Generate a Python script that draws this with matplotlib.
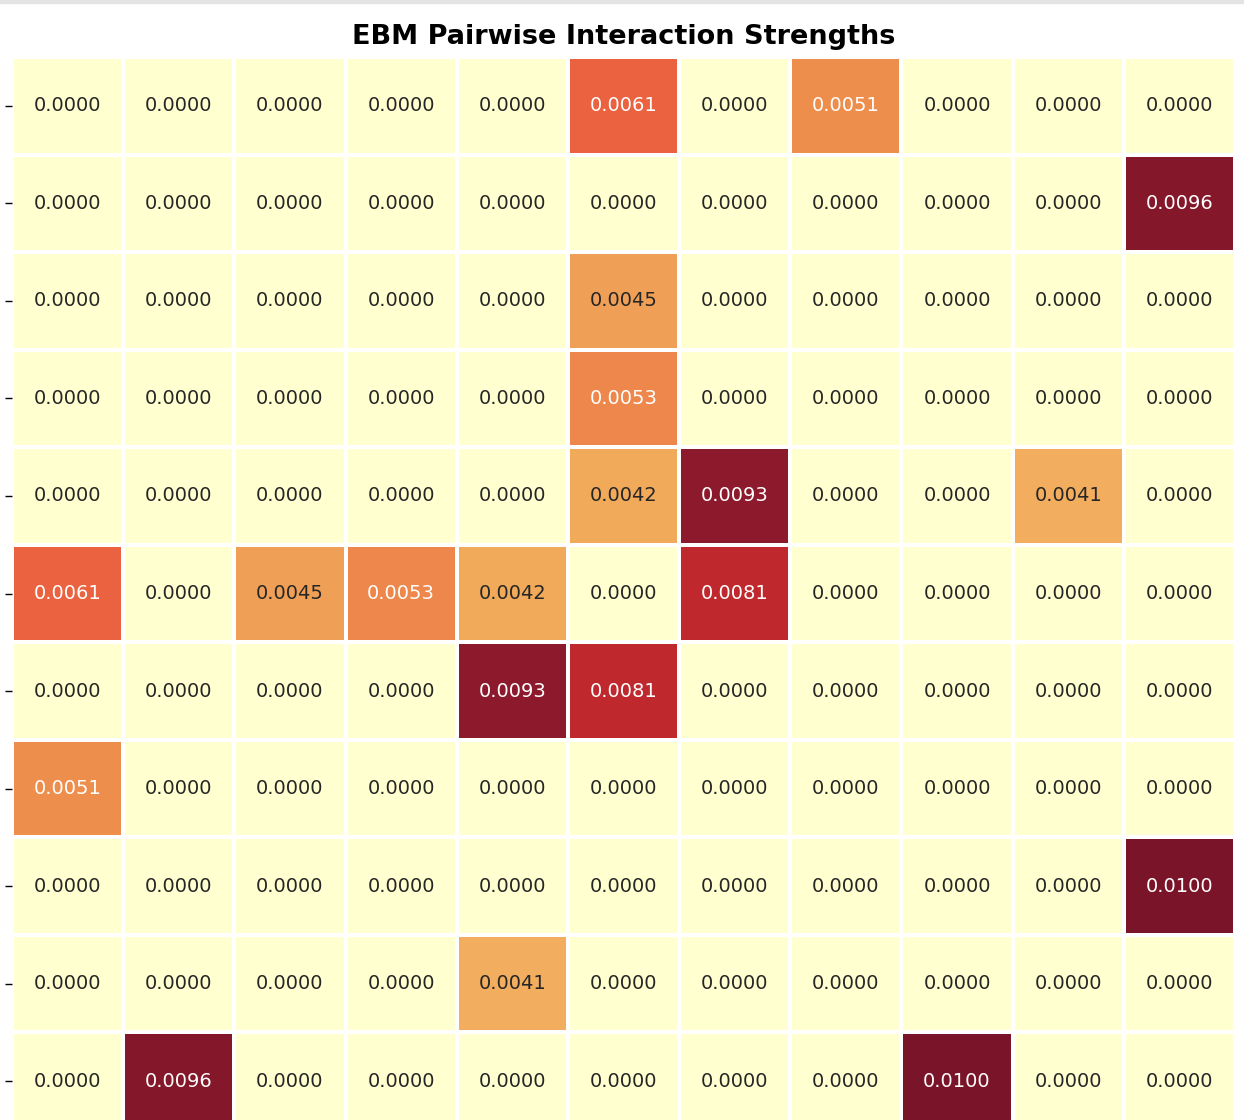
import matplotlib
matplotlib.use("Agg")
import matplotlib.pyplot as plt
from matplotlib.colors import LinearSegmentedColormap
import numpy as np
import seaborn as sns

n_features = 11
# (row, col, strength) for the non-zero pairs; matrix is symmetric
pairs = [(0, 5, 0.0061), (0, 7, 0.0051), (1, 10, 0.0096), (2, 5, 0.0045),
         (3, 5, 0.0053), (4, 5, 0.0042), (4, 6, 0.0093), (4, 9, 0.0041),
         (5, 6, 0.0081), (8, 10, 0.0100)]

strength = np.zeros((n_features, n_features))
for i, j, v in pairs:
    strength[i, j] = v
    strength[j, i] = v

# muted YlOrRd, as it shows in the screenshot
cmap = LinearSegmentedColormap.from_list("ylorrd_muted", [
    (0.00, "#ffffd0"), (0.20, "#fbe9a0"), (0.42, "#f1aa5a"), (0.52, "#ee8b4c"),
    (0.61, "#ea6340"), (0.81, "#c0292d"), (0.93, "#8e1a2c"), (1.00, "#7a1428")])

fig = plt.figure(figsize=(12.44, 11.2), dpi=100)
# thin grey strip along the top edge
fig.patches.append(plt.Rectangle((0, 1 - 3 / 1120), 1, 3 / 1120,
                                 transform=fig.transFigure, color="#e4e4e4", zorder=0))

ax = fig.add_axes([12 / 1244, 1 - 1130 / 1120, 1223 / 1244, 1073 / 1120])
sns.heatmap(strength, ax=ax, cmap=cmap, vmin=0, vmax=0.01, annot=True, fmt=".4f",
            annot_kws={"size": 14}, linewidths=1.5, linecolor="white",
            cbar=False, xticklabels=False, yticklabels=[""] * n_features)
ax.tick_params(axis="y", length=5, width=1)
ax.set_title("EBM Pairwise Interaction Strengths", fontsize=19.5, fontweight="bold", pad=9)

fig.savefig("out.png", dpi=100)
